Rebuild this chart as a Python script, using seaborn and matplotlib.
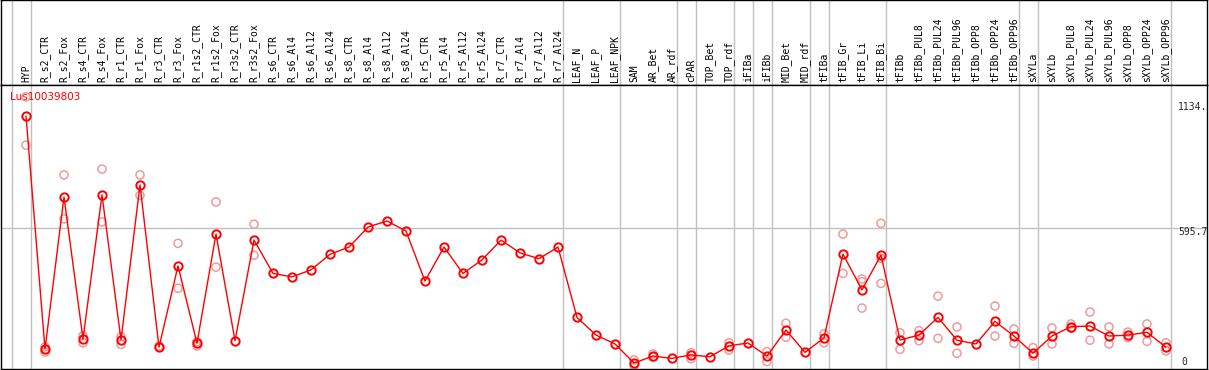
import numpy as np
import pandas as pd
import matplotlib
matplotlib.use('Agg')
import matplotlib.pyplot as plt
from matplotlib import transforms
import seaborn as sns

sns.set_style('white')

gene = 'Lus10039803'

samples = ['HYP', 'R_s2_CTR', 'R_s2_Fox', 'R_s4_CTR', 'R_s4_Fox', 'R_r1_CTR', 'R_r1_Fox',
           'R_r3_CTR', 'R_r3_Fox', 'R_r1s2_CTR', 'R_r1s2_Fox', 'R_r3s2_CTR', 'R_r3s2_Fox',
           'R_s6_CTR', 'R_s6_Al4', 'R_s6_Al12', 'R_s6_Al24', 'R_s8_CTR', 'R_s8_Al4',
           'R_s8_Al12', 'R_s8_Al24', 'R_r5_CTR', 'R_r5_Al4', 'R_r5_Al12', 'R_r5_Al24',
           'R_r7_CTR', 'R_r7_Al4', 'R_r7_Al12', 'R_r7_Al24', 'LEAF_N', 'LEAF_P', 'LEAF_NPK',
           'SAM', 'AR_Bet', 'AR_rdf', 'cPAR', 'TOP_Bet', 'TOP_rdf', 'iFIBa', 'iFIBb',
           'MID_Bet', 'MID_rdf', 'tFIBa', 'tFIB_Gr', 'tFIB_Li', 'tFIB_Bi', 'tFIBb',
           'tFIBb_PUL8', 'tFIBb_PUL24', 'tFIBb_PUL96', 'tFIBb_OPP8', 'tFIBb_OPP24',
           'tFIBb_OPP96', 'sXYLa', 'sXYLb', 'sXYLb_PUL8', 'sXYLb_PUL24', 'sXYLb_PUL96',
           'sXYLb_OPP8', 'sXYLb_OPP24', 'sXYLb_OPP96']

mean_expr = [1078, 77, 730, 120, 739, 116, 782, 85, 434, 102, 571, 113, 545,
             402, 387, 417, 484, 515, 601, 627, 584, 369, 515, 402, 460,
             545, 490, 465, 515, 213, 137, 99,
             17, 47, 37, 52, 44, 91, 103, 47, 159, 63, 125, 485, 331, 481,
             116, 137, 213, 115, 99, 196, 133, 59, 133, 173, 176, 133, 137, 149, 85]

# replicate measurements (sample, value)
rep_samples = ['HYP', 'HYP', 'R_s2_CTR', 'R_s2_CTR', 'R_s2_Fox', 'R_s2_Fox',
               'R_s4_CTR', 'R_s4_CTR', 'R_s4_Fox', 'R_s4_Fox', 'R_r1_CTR', 'R_r1_CTR',
               'R_r1_Fox', 'R_r1_Fox', 'R_r3_CTR', 'R_r3_Fox', 'R_r3_Fox',
               'R_r1s2_CTR', 'R_r1s2_CTR', 'R_r1s2_Fox', 'R_r1s2_Fox',
               'R_r3s2_Fox', 'R_r3s2_Fox', 'SAM', 'SAM', 'AR_Bet', 'AR_Bet',
               'cPAR', 'cPAR', 'TOP_rdf', 'TOP_rdf', 'iFIBb', 'iFIBb',
               'MID_Bet', 'MID_Bet', 'tFIBa', 'tFIBa', 'tFIB_Gr', 'tFIB_Gr',
               'tFIB_Li', 'tFIB_Li', 'tFIB_Li', 'tFIB_Bi', 'tFIB_Bi', 'tFIB_Bi',
               'tFIBb', 'tFIBb', 'tFIBb_PUL8', 'tFIBb_PUL8', 'tFIBb_PUL24', 'tFIBb_PUL24',
               'tFIBb_PUL96', 'tFIBb_PUL96', 'tFIBb_OPP24', 'tFIBb_OPP24',
               'tFIBb_OPP96', 'tFIBb_OPP96', 'sXYLa', 'sXYLa', 'sXYLb', 'sXYLb',
               'sXYLb_PUL8', 'sXYLb_PUL8', 'sXYLb_PUL24', 'sXYLb_PUL24',
               'sXYLb_PUL96', 'sXYLb_PUL96', 'sXYLb_OPP8', 'sXYLb_OPP8',
               'sXYLb_OPP24', 'sXYLb_OPP24', 'sXYLb_OPP96', 'sXYLb_OPP96']
rep_values = [1160, 953, 86, 64, 825, 636,
              134, 104, 850, 623, 130, 97,
              825, 737, 90, 531, 338,
              109, 90, 709, 429,
              613, 480, 30, 7, 56, 42,
              61, 36, 104, 73, 66, 23,
              188, 128, 142, 104, 571, 402,
              378, 366, 253, 617, 467, 359,
              147, 76, 156, 113, 304, 123,
              172, 59, 262, 133,
              163, 102, 83, 47, 168, 99,
              185, 166, 236, 115,
              172, 99, 150, 126,
              185, 110, 104, 69]

# last sample of each block (vertical separators)
group_ends = ['HYP', 'R_r7_Al24', 'LEAF_NPK', 'AR_rdf', 'cPAR', 'TOP_rdf', 'iFIBa',
              'iFIBb', 'MID_rdf', 'tFIBa', 'tFIB_Bi', 'tFIBb_OPP96', 'sXYLa', 'sXYLb_OPP96']

scale_labels = ['1134.', '595.7', '0']
mid_value = 595.7

pos = {s: i for i, s in enumerate(samples)}
df = pd.DataFrame({'pos': np.arange(len(samples)), 'expr': mean_expr})
reps = pd.DataFrame({'pos': [pos[s] for s in rep_samples], 'expr': rep_values})

W, H = 1209, 370
fig = plt.figure(figsize=(W / 100, H / 100), dpi=100)
hdr = fig.add_axes([1 / W, (H - 85) / H, 1206 / W, 85 / H])
ax = fig.add_axes([1 / W, 1 / H, 1206 / W, 284 / H])

xmin, xmax = -1.316, 62.16
for a in (hdr, ax):
    a.set_xlim(xmin, xmax)
    a.set_xticks([])
    a.set_yticks([])
    for sp in a.spines.values():
        sp.set_color('black')
        sp.set_linewidth(1)
    a.axvline(-1 + 0.24, color='#c0c0c0', lw=1, zorder=0)
    for g in group_ends:
        a.axvline(pos[g] + 0.24, color='#c0c0c0', lw=1, zorder=0)
hdr.set_ylim(0, 1)

trans = transforms.blended_transform_factory(hdr.transData, hdr.transAxes)
for i, s in enumerate(samples):
    hdr.text(i, 0.035, s, rotation=90, ha='center', va='bottom', transform=trans,
             fontsize=7, family='DejaVu Sans Mono', color='black')

ax.set_ylim(-8.6, 1211)
ax.axhline(mid_value, color='#c0c0c0', lw=1, zorder=0)

sns.scatterplot(data=reps, x='pos', y='expr', ax=ax, marker='o', s=34,
                facecolor='none', edgecolor='#f09a9a', linewidth=1.1, zorder=2, legend=False)
sns.lineplot(data=df, x='pos', y='expr', ax=ax, color='red', lw=1, marker='o',
             markersize=6, markerfacecolor='none', markeredgecolor='red',
             markeredgewidth=1.4, zorder=3)
ax.set_xlabel('')
ax.set_ylabel('')
ax.set_xlim(xmin, xmax)

ax.text(0.0075, (369 - 97) / 284, gene, transform=ax.transAxes, color='red',
        fontsize=7.5, va='center', ha='left', zorder=1)
ax.text(0.976, (369 - 107) / 284, scale_labels[0], transform=ax.transAxes,
        fontsize=7, family='DejaVu Sans Mono', va='center', ha='left')
ax.text(0.976, (369 - 232) / 284, scale_labels[1], transform=ax.transAxes,
        fontsize=7, family='DejaVu Sans Mono', va='center', ha='left')
ax.text(0.979, (369 - 362) / 284, scale_labels[2], transform=ax.transAxes,
        fontsize=7, family='DejaVu Sans Mono', va='center', ha='left')

fig.savefig('out.png', dpi=100)
